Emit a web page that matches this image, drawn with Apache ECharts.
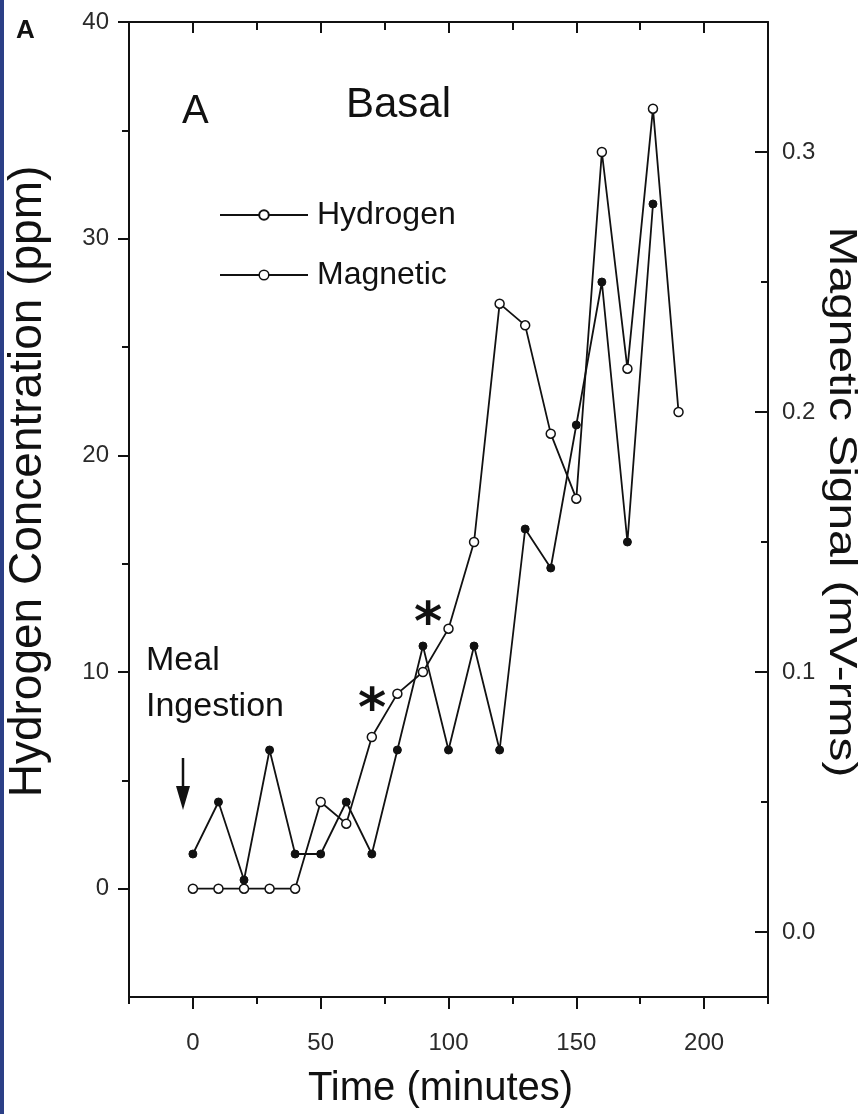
<!DOCTYPE html>
<html>
<head>
<meta charset="utf-8">
<script src="https://cdn.jsdelivr.net/npm/echarts@6/dist/echarts.min.js"></script>
<style>
html,body{margin:0;padding:0;background:#fff;}
#chart{width:861px;height:1114px;}
</style>
</head>
<body>
<div id="chart"></div>
<script>
// ---- data ----
const timeH = [0,10,20,30,40,50,60,70,80,90,100,110,120,130,140,150,160,170,180,190];
const hydrogen = [0,0,0,0,0,4,3,7,9,10,12,16,27,26,21,18,34,24,36,22];
const timeM = [0,10,20,30,40,50,60,70,80,90,100,110,120,130,140,150,160,170,180];
const magnetic = [0.03,0.05,0.02,0.07,0.03,0.03,0.05,0.03,0.07,0.11,0.07,0.11,0.07,0.155,0.14,0.195,0.25,0.15,0.28];
const xMajorTicks = [0,50,100,150,200];
const xMinorTicks = [-25,25,75,125,175,225];
const yLeftMajor = [0,10,20,30,40];
const yLeftMinor = [5,15,25,35];
const yRightMajor = [0,0.1,0.2,0.3];
const yRightMinor = [0.05,0.15,0.25];

const FONT = 'Liberation Sans, Arial, sans-serif';
const chart = echarts.init(document.getElementById('chart'));

function xAx(pos, ticks, len, inside, labels, line) {
  return {
    type:'value', position:pos, min:-25, max:225,
    axisLine:{show:line, onZero:false, lineStyle:{color:'#111', width:2}},
    axisTick:{show:true, inside:inside, length:len, customValues:ticks, lineStyle:{color:'#111', width:2}},
    axisLabel:{show:labels, customValues:ticks, fontSize:24, color:'#2a2a2a', fontFamily:FONT, margin:34},
    splitLine:{show:false}
  };
}
function yAx(pos, min, max, ticks, len, inside, labels, line, fmt, margin) {
  return {
    type:'value', position:pos, min:min, max:max,
    axisLine:{show:line, onZero:false, lineStyle:{color:'#111', width:2}},
    axisTick:{show:true, inside:inside, length:len, customValues:ticks, lineStyle:{color:'#111', width:2}},
    axisLabel:{show:labels, customValues:ticks, fontSize:24, color:'#2a2a2a', fontFamily:FONT, margin:margin || 14, formatter:fmt},
    splitLine:{show:false}
  };
}

const xAxes = [
  Object.assign(xAx('bottom', xMajorTicks, 12, false, true, true), {
    name:'Time (minutes)', nameLocation:'middle', nameGap:72,
    nameTextStyle:{fontSize:40, color:'#111', fontFamily:FONT, padding:[0,16,0,0]}
  }),
  xAx('bottom', xMinorTicks, 7, false, false, false),
  xAx('top', xMajorTicks, 11, true, false, true),
  xAx('top', xMinorTicks, 8, true, false, false)
];
const yAxes = [
  Object.assign(yAx('left', -5, 40, yLeftMajor, 11, false, true, true, v => String(v), 20), {
    name:'Hydrogen Concentration (ppm)', nameLocation:'middle', nameGap:78, nameRotate:90,
    nameTextStyle:{fontSize:46, color:'#111', fontFamily:FONT, padding:[0,0,0,56]}
  }),
  yAx('right', -0.025, 0.35, yRightMajor, 13, true, true, true, v => v.toFixed(1), 14),
  yAx('left', -5, 40, yLeftMinor, 7, false, false, false),
  yAx('right', -0.025, 0.35, yRightMinor, 7, true, false, false)
];

const option = {
  backgroundColor:'#fff',
  animation:false,
  grid:{left:129, right:93, top:22, bottom:117, containLabel:false, outerBoundsMode:'none'},
  xAxis:xAxes,
  yAxis:yAxes,
  legend:{
    left:214, top:194, orient:'vertical', itemWidth:88, itemHeight:12, itemGap:28,
    textStyle:{fontSize:32, color:'#111', fontFamily:FONT, padding:[0,0,0,4]},
    data:[
      {name:'Hydrogen'},
      {name:'Magnetic', itemStyle:{color:'#fff', borderColor:'#111', borderWidth:1.5}}
    ]
  },
  series:[
    {
      name:'Hydrogen', type:'line', xAxisIndex:0, yAxisIndex:0,
      data: timeH.map((t,i)=>[t, hydrogen[i]]),
      symbol:'circle', symbolSize:9,
      lineStyle:{color:'#111', width:1.8},
      itemStyle:{color:'#fff', borderColor:'#111', borderWidth:1.5},
      z:3
    },
    {
      name:'Magnetic', type:'line', xAxisIndex:0, yAxisIndex:1,
      data: timeM.map((t,i)=>[t, magnetic[i]]),
      symbol:'circle', symbolSize:8,
      lineStyle:{color:'#111', width:1.8},
      itemStyle:{color:'#111', borderColor:'#111', borderWidth:1},
      z:2
    }
  ],
  graphic:[
    {type:'rect', left:0, top:0, shape:{width:4, height:1114}, style:{fill:'#2b3f86'}},
    {type:'text', left:16, top:18, style:{text:'A', font:'bold 26px ' + FONT, fill:'#111'}},
    {type:'text', left:182, top:92, style:{text:'A', font:'40px ' + FONT, fill:'#111'}},
    {type:'text', left:346, top:84, style:{text:'Basal', font:'42px ' + FONT, fill:'#111'}},
    {type:'text', left:146, top:644, style:{text:'Meal', font:'34px ' + FONT, fill:'#111'}},
    {type:'text', left:146, top:690, style:{text:'Ingestion', font:'34px ' + FONT, fill:'#111'}},
    {type:'line', shape:{x1:183, y1:758, x2:183, y2:792}, style:{stroke:'#111', lineWidth:2.5}},
    {type:'polygon', shape:{points:[[176,786],[190,786],[183,810]]}, style:{fill:'#111'}},
    {type:'text', x:372, y:712, style:{text:'*', font:'bold 54px DejaVu Sans', fill:'#111', align:'center', verticalAlign:'middle'}},
    {type:'text', x:428, y:626, style:{text:'*', font:'bold 54px DejaVu Sans', fill:'#111', align:'center', verticalAlign:'middle'}},
    {type:'text', x:840, y:502, rotation:-Math.PI/2, scaleX:1.26,
     style:{text:'Magnetic Signal (mV-rms)', font:'38px ' + FONT, fill:'#111', align:'center', verticalAlign:'middle'}}
  ]
};
chart.setOption(option);
</script>
</body>
</html>
